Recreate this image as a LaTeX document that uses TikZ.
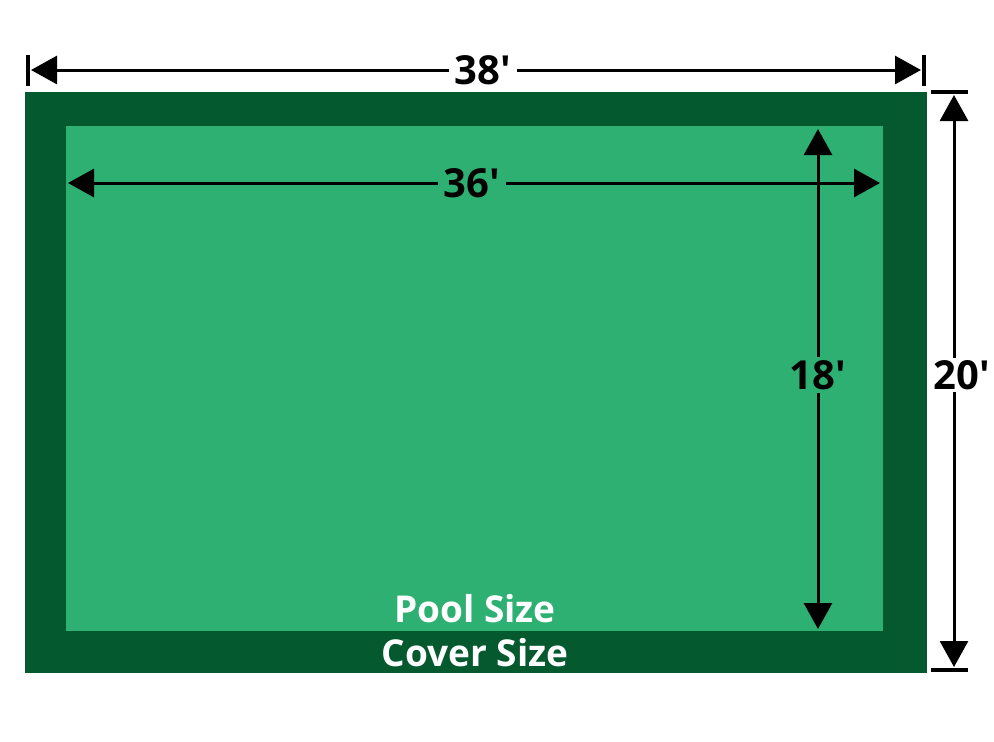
\documentclass[tikz,border=0pt]{standalone}
\usepackage{fontspec}
\newfontfamily\osans{Open Sans}
\usetikzlibrary{arrows.meta}
\definecolor{coverg}{RGB}{4,90,46}
\definecolor{poolg}{RGB}{46,176,115}
\tikzset{
  dimboth/.style={line width=3pt, {Triangle[length=26pt,width=28pt]}-{Triangle[length=26pt,width=28pt]}},
  tick/.style={line width=3.5pt},
  lbl/.style={font=\osans\bfseries\fontsize{40}{42}\selectfont, inner sep=3pt, text=black},
  wlbl/.style={font=\osans\bfseries\fontsize{37}{40}\selectfont, inner sep=0pt, text=white},
}
\begin{document}
\begin{tikzpicture}[x=1pt,y=-1pt]
\useasboundingbox (0,0) rectangle (994,742);
\fill[white] (0,0) rectangle (994,742);
\node[rectangle, fill=coverg, minimum width=902pt, minimum height=581pt, inner sep=0pt] (cover) at (476,382.5) {};
\node[rectangle, fill=poolg, minimum width=817pt, minimum height=505pt, inner sep=0pt] (pool) at (474.5,378.5) {};
% top 38'
\coordinate (tl1) at (28,55); \coordinate (tl2) at (28,86);
\coordinate (tr1) at (924,55); \coordinate (tr2) at (924,86);
\draw[tick] (tl1) -- (tl2);
\draw[tick] (tr1) -- (tr2);
\coordinate (ta) at (31,70); \coordinate (tb) at (921,70);
\draw[dimboth] (ta) -- (tb);
\node[lbl, fill=white, inner sep=6pt] (l38) at (483,70) {38'};
% right 20'
\coordinate (rt1) at (931,92); \coordinate (rt2) at (968,92);
\coordinate (rb1) at (931,670); \coordinate (rb2) at (968,670);
\draw[tick] (rt1) -- (rt2);
\draw[tick] (rb1) -- (rb2);
\coordinate (ra) at (954,95); \coordinate (rb) at (954,667);
\draw[dimboth] (ra) -- (rb);
\node[lbl, fill=white, inner sep=2pt] (l20) at (962,375) {20'};
% inner 36'
\coordinate (ia) at (68,183); \coordinate (ib) at (880,183);
\draw[dimboth] (ia) -- (ib);
\node[lbl, fill=poolg, inner sep=6pt] (l36) at (472,183) {36'};
% inner 18'
\coordinate (va) at (818,129); \coordinate (vb) at (818,629);
\draw[dimboth] (va) -- (vb);
\node[lbl, fill=poolg] (l18) at (818,375) {18'};
% labels
\node[wlbl] (pools) at (475,609) {Pool Size};
\node[wlbl] (covers) at (475,653) {Cover Size};
\end{tikzpicture}
\end{document}
